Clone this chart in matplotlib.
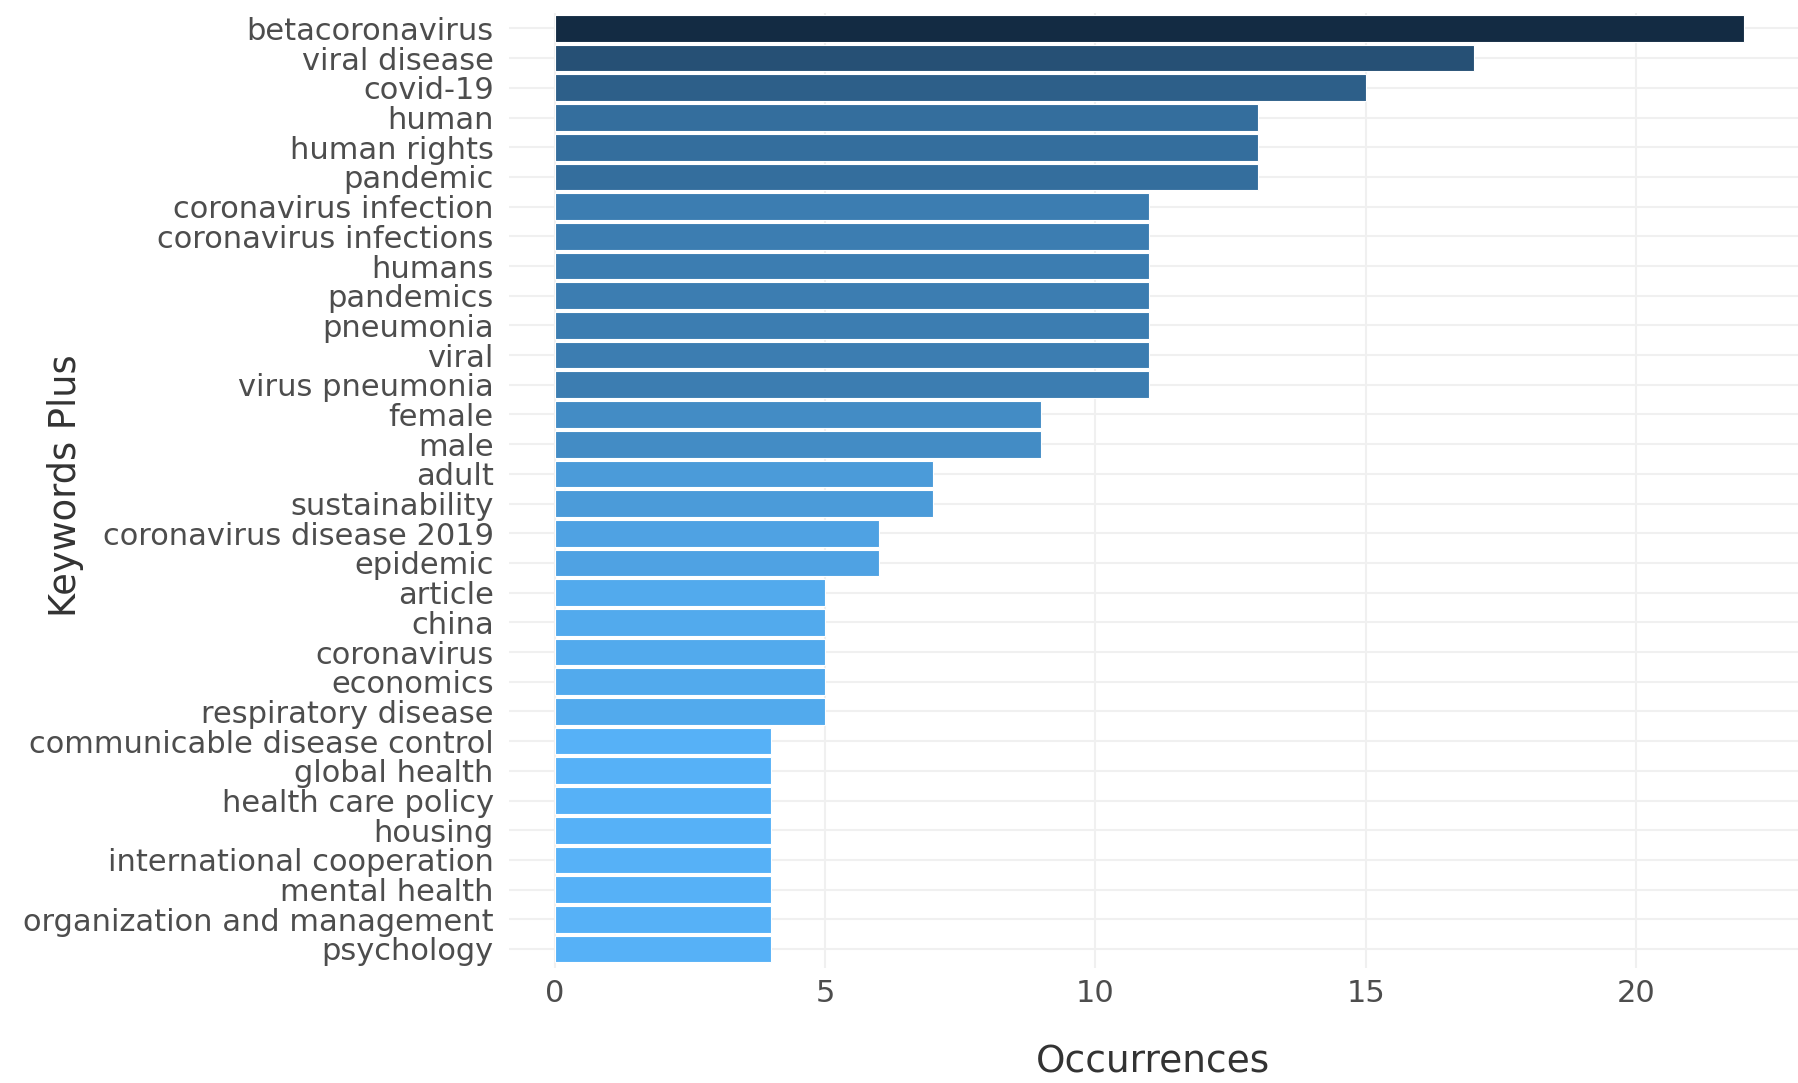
import matplotlib
matplotlib.use("Agg")
import matplotlib.pyplot as plt
import numpy as np
from matplotlib.colors import LinearSegmentedColormap, Normalize

keywords = [
    "betacoronavirus", "viral disease", "covid-19", "human", "human rights",
    "pandemic", "coronavirus infection", "coronavirus infections", "humans",
    "pandemics", "pneumonia", "viral", "virus pneumonia", "female", "male",
    "adult", "sustainability", "coronavirus disease 2019", "epidemic",
    "article", "china", "coronavirus", "economics", "respiratory disease",
    "communicable disease control", "global health", "health care policy",
    "housing", "international cooperation", "mental health",
    "organization and management", "psychology",
]
occurrences = [22, 17, 15, 13, 13, 13, 11, 11, 11, 11, 11, 11, 11, 9, 9,
               7, 7, 6, 6, 5, 5, 5, 5, 5, 4, 4, 4, 4, 4, 4, 4, 4]
x_ticks = [0, 5, 10, 15, 20]

plt.rcParams['font.family'] = ['DejaVu Sans']

W, H = 1798, 1083
fig = plt.figure(figsize=(W / 100, H / 100), dpi=100)
left, right, top, bottom = 509, 1798, 13, 968
ax = fig.add_axes([left / W, 1 - bottom / H, (right - left) / W, (bottom - top) / H])

cmap = LinearSegmentedColormap.from_list("gg", ["#56B1F7", "#132B43"])
norm = Normalize(vmin=min(occurrences), vmax=max(occurrences))
y = np.arange(len(keywords))
colors = [cmap(norm(v)) for v in occurrences]

ax.barh(y, occurrences, height=0.9, color=colors, edgecolor="white",
        linewidth=0.8, zorder=3)

ax.set_xlim(-0.85, 23.0)
ax.set_ylim(len(keywords) - 1 + 0.64, -0.52)
ax.set_yticks(y)
ax.set_yticklabels(keywords)
ax.set_xticks(x_ticks)
ax.set_xticklabels([str(t) for t in x_ticks])

ax.tick_params(axis='y', length=0, pad=11, labelsize=22, labelcolor="#4d4d4d")
ax.tick_params(axis='x', length=0, pad=8, labelsize=22, labelcolor="#4d4d4d")

ax.grid(True, axis='both', color="#f0f0f0", linewidth=1.5, zorder=0)
ax.set_axisbelow(True)
for s in ax.spines.values():
    s.set_visible(False)

ax.set_xlabel("Occurrences", fontsize=27, color="#333333", labelpad=26)
fig.text(65 / W, 1 - 486 / H, "Keywords Plus", rotation=90, fontsize=26.5,
         color="#333333", ha="center", va="center")

fig.savefig("out.png", dpi=100, facecolor="white")
